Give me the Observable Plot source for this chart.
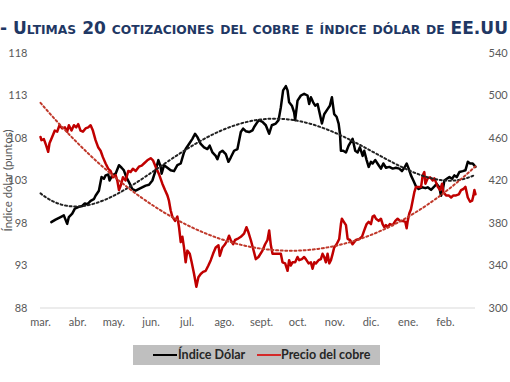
<!DOCTYPE html>
<html>
<head>
<meta charset="utf-8">
<script src="https://cdn.jsdelivr.net/npm/d3@7"></script>
<script src="https://cdn.jsdelivr.net/npm/@observablehq/plot@0.6"></script>
<style>
  html, body { margin: 0; padding: 0; background: #fff; }
  #wrap { position: relative; width: 510px; height: 382px; overflow: hidden; }
  #title { position: absolute; left: 0; top: 19px; white-space: nowrap; font-family: "DejaVu Sans", sans-serif; font-weight: bold; font-size: 18px; line-height: 18px; font-variant: small-caps; color: #1f3864; transform-origin: 0 0; }
  #chart { position: absolute; left: 0; top: 0; }
  #chart [aria-label="y-axis label"] { font-size: 11.5px; }
  #legend { position: absolute; left: 133px; top: 345px; width: 247px; height: 20px; background: #bfbfbf; font-family: Lato, sans-serif; font-weight: bold; font-size: 12.5px; color: #262626; }
  .sw { position: absolute; top: 9px; height: 2px; width: 24px; }
  .lt { position: absolute; top: 2px; line-height: 16px; }
</style>
</head>
<body>
<div id="wrap">
  <div id="chart"></div>
  <div id="title">- Ultimas 20 cotizaciones del cobre e índice dólar de EE.UU</div>
  <div id="legend">
    <div class="sw" style="left:20px;background:#000"></div>
    <div class="lt" style="left:45px">Índice Dólar</div>
    <div class="sw" style="left:124px;background:#d42a2a"></div>
    <div class="lt" style="left:148px">Precio del cobre</div>
  </div>
</div>
<script>
// Días desde el 1 de marzo de 2022
const monthStarts = [0, 31, 61, 92, 122, 153, 184, 214, 245, 275, 306, 337];
const monthLabels = ["mar.", "abr.", "may.", "jun.", "jul.", "ago.", "sept.", "oct.", "nov.", "dic.", "ene.", "feb."];
const leftTicks = [88, 93, 98, 103, 108, 113, 118];

// Índice Dólar (puntos)
const dolarDia = [9,12.5,16.7,19.4,22.2,23.6,26.4,28.6,31.9,34.7,36.9,38.9,41.7,44.4,45.8,48.6,50.8,52.8,54.2,56.4,57.5,59.7,62.5,65.3,67.5,69.4,71.4,73.6,76.4,79.2,83.3,87.5,90.3,93.1,95.8,98.1,100,100.8,102.8,105.6,108.3,111.1,113.9,116.7,119.4,120.8,123.6,126.4,128.6,130.6,133.3,136.1,138.9,140.8,143.1,145.8,147.2,149.2,151.4,154.2,156.4,158.3,161.1,163.9,166.7,168.6,170.8,173.6,176.4,177.8,180.6,181.9,184.7,187.5,190.3,192.5,195.8,198.1,200,201.9,204.2,205.6,206.9,209.2,211.1,211.9,213.9,216.7,219.4,222.2,223.6,225,226.9,228.6,230.6,232.5,234.2,236.1,238.9,240.8,242.5,244.4,246.4,248.1,249.2,250,251.9,254.2,256.4,259.7,261.9,263.9,265.8,268.1,269.4,271.4,273.1,275,276.4,278.6,281.4,283.3,285.3,287.5,290.3,293.1,295.8,298.6,300.8,302.8,304.7,306.4,308.3,310.3,312.5,314.7,317.5,320.3,322.2,325,327.8,329.7,331.9,333.3,334.7,336.1,338.1,340.3,342.5,344.4,346.4,348.6,351.4,353.6,355.6,357.5,359.7,362];
const dolarValor = [98.1,98.4,98.7,98.9,97.9,98.7,99.1,99.7,99.9,100.0,100.3,100.2,100.6,100.8,101.2,101.8,103.4,103.2,103.6,103.7,103.0,103.6,103.8,104.8,104.5,104.2,103.4,102.8,102.0,101.8,102.1,102.4,102.5,103.0,104.2,105.4,104.6,103.8,104.8,104.5,104.2,104.1,104.8,105.0,106.3,106.7,107.3,107.9,108.5,108.1,107.3,106.9,106.7,107.1,106.3,105.9,105.5,106.3,106.5,106.1,105.2,105.7,106.5,106.7,108.7,109.1,108.8,108.7,108.9,109.3,109.9,110.1,109.9,109.5,108.5,109.5,109.7,110.1,111.6,113.6,114.1,113.6,112.2,111.8,111.0,110.1,112.4,113.0,113.2,113.0,112.0,112.8,112.2,111.8,112.0,110.8,109.7,110.8,111.4,111.8,112.8,110.8,110.5,109.7,108.5,106.5,106.5,106.3,107.1,107.9,106.5,106.3,106.9,105.9,106.5,105.4,104.6,105.2,105.0,105.4,104.8,104.4,105.0,104.5,104.6,104.4,104.5,104.4,104.1,104.5,105.0,104.4,103.6,103.0,102.3,102.0,102.2,102.1,102.2,101.9,102.3,102.6,102.2,101.2,101.8,103.0,103.2,103.4,103.2,103.6,103.4,104.0,104.1,104.2,105.2,105.0,105.0,104.6];

// Precio del cobre (eje derecho)
const cobreDia = [0,0.8,2.8,4.7,6.4,7.5,9.7,11.9,13.9,15.8,18.1,20.3,22.2,23.6,25.8,27.8,29.7,31.4,33.3,35.3,37.5,39.7,41.7,43.6,45.8,48.1,50,51.9,54.2,56.4,58.3,60.3,62.5,63.9,65.3,66.7,68.6,70.8,73.1,75,76.9,79.2,81.9,84.2,86.1,88.9,91.7,93.6,95.8,98.6,101.4,103.6,105.6,106.9,108.3,109.7,112,113.9,115.3,116.7,118.1,119.4,120.8,122.2,124.2,125.8,127.8,129.7,131.4,133.3,135.3,137.5,139.7,141.7,143.6,145.8,148.1,149.2,151.4,153.6,155.6,156.9,158.3,160.3,161.9,163.9,166.7,169.4,171.4,173.1,175,176.9,179.2,181.4,184.7,186.9,188.9,190.3,191.7,193.1,195.8,198.6,200,201.4,203.6,205.6,206.9,208.3,209.7,211.9,213.9,215.3,217.5,219.4,220.8,223.1,225,226.4,227.8,229.2,231.4,233.3,234.7,236.1,237.5,238.9,240.3,241.7,243.1,244.4,246.4,248.6,250,250.8,251.9,254.2,255.6,257.5,259.7,262.5,265.3,267.5,269.4,271.4,273.1,275,276.4,277.8,279.2,281.4,283.3,284.7,286.1,287.5,288.9,290.8,293.1,295.3,297.2,299.2,301.4,303.6,304.7,305.6,306.9,308.3,309.7,311.1,312.5,314.7,316.7,318.1,319.4,320.3,322.2,324.2,326.4,327.8,329.2,330.6,332.5,334.2,335.3,337.5,339.7,341.7,343.6,345.8,348.1,350,351.9,353.6,355.6,357.5,359.2,360.3,361.1,362];
const cobreValor = [461,458,459,453,447,455,461,467,466,472,469,470,466,472,467,472,470,473,467,466,469,470,472,467,458,451,448,442,436,431,429,423,425,420,411,415,423,420,429,428,431,429,433,434,436,439,441,439,433,426,417,411,406,401,392,386,382,386,376,362,367,357,343,354,351,343,332,320,329,332,334,335,340,345,351,357,359,349,357,360,364,368,364,360,364,365,367,370,376,371,364,356,346,348,354,360,364,373,359,351,351,351,351,343,342,335,345,340,343,343,348,345,346,348,346,342,343,337,343,342,345,346,351,348,343,351,342,345,351,357,360,365,379,384,382,378,365,364,360,364,365,367,373,379,381,379,386,387,384,382,384,379,376,378,376,379,378,382,384,382,382,381,375,382,389,393,401,409,414,414,414,425,428,417,422,423,420,422,418,414,411,417,409,406,406,404,406,406,407,411,412,414,404,400,401,406,411,407];

// Conversión del eje derecho (300–540) al izquierdo (88–118)
const toLeft = v => 88 + (v - 300) / 8;
const toRight = d => 300 + (d - 88) * 8;

const dolar = dolarDia.map((d, i) => ({dia: d, valor: dolarValor[i]}));
const cobre = cobreDia.map((d, i) => ({dia: d, valor: cobreValor[i]}));

// Línea de tendencia polinómica (como en Excel), ajuste por mínimos cuadrados
function polyfit(data, deg, span) {
  const n = deg + 1;
  const A = Array.from({length: n}, () => new Array(n + 1).fill(0));
  for (const p of data) {
    const t = 2 * p.dia / span - 1;
    const pw = [];
    for (let k = 0; k < n; k++) pw.push(Math.pow(t, k));
    for (let i = 0; i < n; i++) {
      for (let j = 0; j < n; j++) A[i][j] += pw[i] * pw[j];
      A[i][n] += pw[i] * p.valor;
    }
  }
  for (let c = 0; c < n; c++) {
    let piv = c;
    for (let r = c + 1; r < n; r++) if (Math.abs(A[r][c]) > Math.abs(A[piv][c])) piv = r;
    [A[c], A[piv]] = [A[piv], A[c]];
    for (let r = 0; r < n; r++) {
      if (r === c) continue;
      const f = A[r][c] / A[c][c];
      for (let k = c; k <= n; k++) A[r][k] -= f * A[c][k];
    }
  }
  const coef = A.map((row, i) => row[n] / row[i]);
  return dia => { const t = 2 * dia / span - 1; let s = 0; for (let k = n - 1; k >= 0; k--) s = s * t + coef[k]; return s; };
}
const span = 362;
const fD = polyfit(dolar, 4, span);
const fC = polyfit(cobre, 3, span);
const dias = d3.range(0, span + 0.5, 1);
const tendDolar = dias.map(d => ({dia: d, valor: fD(d)}));
const tendCobre = dias.map(d => ({dia: d, valor: fC(d)}));

const chart = Plot.plot({
  width: 510,
  height: 382,
  marginLeft: 40,
  marginRight: 35,
  marginTop: 52.5,
  marginBottom: 74.5,
  style: {fontFamily: "Lato, sans-serif", fontSize: "11px", color: "#595959", background: "transparent"},
  x: {type: "linear", domain: [0, span]},
  y: {domain: [88, 118]},
  marks: [
    Plot.ruleY([88], {stroke: "#d9d9d9", strokeWidth: 1}),
    Plot.axisX({ticks: monthStarts, tickFormat: d => monthLabels[monthStarts.indexOf(d)], tickSize: 0, tickPadding: 10, label: null}),
    Plot.axisY({anchor: "left", ticks: leftTicks, tickSize: 0, tickPadding: 13, label: "Índice dólar (puntos)", labelAnchor: "center", labelOffset: 37, labelArrow: "none"}),
    Plot.axisY({anchor: "right", ticks: leftTicks, tickFormat: d => String(toRight(d)), tickSize: 0, tickPadding: 13, textAnchor: "start", label: null}),
    Plot.line(dolar, {x: "dia", y: "valor", stroke: "#000", strokeWidth: 2.5, strokeLinejoin: "round"}),
    Plot.line(cobre, {x: "dia", y: d => toLeft(d.valor), stroke: "#c00000", strokeWidth: 2.5, strokeLinejoin: "round"}),
    Plot.line(tendDolar, {x: "dia", y: "valor", stroke: "#222", strokeWidth: 2, strokeDasharray: "2,2.6"}),
    Plot.line(tendCobre, {x: "dia", y: d => toLeft(d.valor), stroke: "#c0392b", strokeWidth: 2, strokeDasharray: "2,2.6"})
  ]
});
document.getElementById("chart").appendChild(chart);

// Ajustar el ancho del título al de la referencia
const title = document.getElementById("title");
const w = title.getBoundingClientRect().width;
title.style.transform = `scaleX(${508 / w})`;
</script>
</body>
</html>
